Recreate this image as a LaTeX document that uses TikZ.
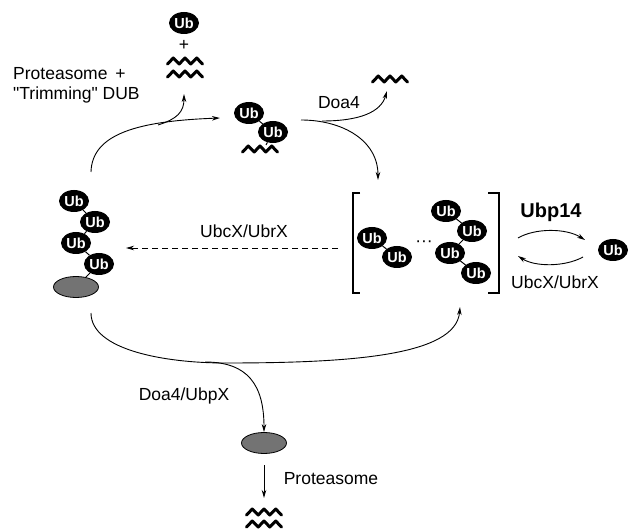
\documentclass[tikz,border=0pt]{standalone}
\usepackage{fontspec}
\setmainfont{Liberation Sans}
% same face without the TeX mapping, so " stays a straight quote
\newfontfamily\straightq{Liberation Sans}
\usetikzlibrary{shapes.geometric,arrows.meta}

\tikzset{
  ub/.style={ellipse, fill=black, text=white, inner sep=0pt,
    minimum width=30pt, minimum height=22pt,
    font=\bfseries\fontsize{14.5}{14.5}\selectfont},
  substrate/.style={ellipse, draw=black, line width=0.8pt, fill=black!55,
    inner sep=0pt, minimum width=45pt, minimum height=21pt},
  link/.style={line width=1pt},
  flow/.style={line width=0.9pt, -{Stealth[length=8pt,width=4.5pt,inset=2.5pt]}},
  plain/.style={line width=0.9pt},
  lbl/.style={font=\fontsize{17.5}{20}\selectfont, inner sep=0pt},
  bracket/.style={line width=1.2pt},
  wave/.pic={\draw[line width=3pt, line join=round, line cap=round]
    (-17.5,3) -- (-11.7,-3) -- (-5.8,3) -- (0,-3) -- (5.8,3) -- (11.7,-3) -- (17.5,3);}
}

\begin{document}
\begin{tikzpicture}[x=1pt, y=-1pt]
\useasboundingbox (0,0) rectangle (630,532);

% ---- substrate carrying a tetra-ubiquitin chain (left)
\node[ub] (L1) at (74,201) {Ub};
\node[ub] (L2) at (95,222) {Ub};
\node[ub] (L3) at (76,243) {Ub};
\node[ub] (L4) at (99,264) {Ub};
\node[substrate] (Ls) at (76,287) {};
\draw[link] (L1) -- (L2);
\draw[link] (L2) -- (L3);
\draw[link] (L3) -- (L4);
\draw[link] (L4) -- (Ls);

% ---- free ubiquitin + peptides (top)
\node[ub] (F) at (184,23) {Ub};
\node[lbl] (plus) at (184,45) {+};
\pic at (185,61) {wave};
\pic at (185,74) {wave};
\coordinate (Fpep) at (184,94);

% ---- di-ubiquitin on a peptide remnant
\node[ub] (T1) at (249,113) {Ub};
\node[ub] (T2) at (273,132) {Ub};
\draw[link] (T1) -- (T2);
\pic at (260,149) {wave};
\coordinate (Tpep) at (266,145);
\draw[link] (T2) -- (Tpep);

% ---- Doa4 releases the peptide
\pic at (390,79) {wave};
\coordinate (Dpep) at (387,91);

% ---- unanchored chains in brackets
\node[ub] (B1) at (372,238) {Ub};
\node[ub] (B2) at (397,257) {Ub};
\draw[link] (B1) -- (B2);
\node[lbl] (dots) at (424,244) {···};
\node[ub] (C1) at (446,211) {Ub};
\node[ub] (C2) at (472,231) {Ub};
\node[ub] (C3) at (450,253) {Ub};
\node[ub] (C4) at (476,273) {Ub};
\draw[link] (C1) -- (C2);
\draw[link] (C2) -- (C3);
\draw[link] (C3) -- (C4);
\coordinate (brTL) at (353,193);
\coordinate (brBR) at (499,293);
\draw[bracket] (360,193) -- (brTL) -- (353,293) -- (360,293);
\draw[bracket] (488,193) -- (499,193) -- (brBR) -- (488,293);

% ---- free ubiquitin (right)
\node[ub] (R) at (613,250) {Ub};
\node[lbl, font=\bfseries\fontsize{20}{20}\selectfont, anchor=base] (ubp) at (551,218) {Ubp14};
\node[lbl, anchor=base] (ubcR) at (555,288) {UbcX/UbrX};
\coordinate (rA) at (518,238);
\coordinate (rB) at (585,240);
\coordinate (rC) at (583,257);
\coordinate (rD) at (518,256);
\draw[flow] (rA) .. controls (535,228) and (566,228) .. (rB);
\draw[flow] (rC) .. controls (565,267) and (535,267) .. (rD);

% ---- re-ligation of free chains (dashed)
\coordinate (dS) at (338,248);
\coordinate (dE) at (126,248);
\draw[flow, dash pattern=on 6pt off 4pt] (dS) -- (dE);
\node[lbl, anchor=base] (ubcL) at (244,237) {UbcX/UbrX};

% ---- proteasome + trimming DUB
\coordinate (a0) at (91,172);
\coordinate (a1) at (220,118);
\coordinate (aB) at (158,125);
\draw[flow] (a0) .. controls (92,133) and (140,121) .. (a1);
\draw[flow] (aB) .. controls (177,119) and (184,112) .. (Fpep);
\node[lbl, align=left, anchor=base west] (prot) at (13,100)
  {Proteasome\hspace{0.45em}+\\{\straightq"}Trimming{\straightq"} DUB};

% ---- Doa4 step
\coordinate (b0) at (301,120);
\coordinate (b1) at (378,180);
\coordinate (bB) at (322,121);
\draw[flow] (b0) .. controls (342,120) and (378,140) .. (b1);
\draw[flow] (bB) .. controls (360,121) and (381,112) .. (Dpep);
\node[lbl, anchor=base] (doa) at (339,109) {Doa4};

% ---- lower route: Doa4/UbpX and the proteasome
\coordinate (c0) at (91,313);
\coordinate (cM) at (225,363);
\coordinate (c1) at (460,307);
\draw[plain] (c0) .. controls (91,350) and (165,363) .. (cM);
\draw[flow] (cM) .. controls (350,363) and (456,356) .. (c1);
\coordinate (cB) at (205,362);
\node[substrate] (S) at (264,443) {};
\draw[flow] (cB) .. controls (248,362) and (264,385) .. (S.north);
\node[lbl, anchor=base] (doaU) at (184,400) {Doa4/UbpX};
\coordinate (pS) at (264,465);
\coordinate (pE) at (264,498);
\draw[flow] (pS) -- (pE);
\node[lbl, anchor=base] (prot2) at (331,484) {Proteasome};
\pic at (264,512) {wave};
\pic at (264,524) {wave};
\end{tikzpicture}
\end{document}
